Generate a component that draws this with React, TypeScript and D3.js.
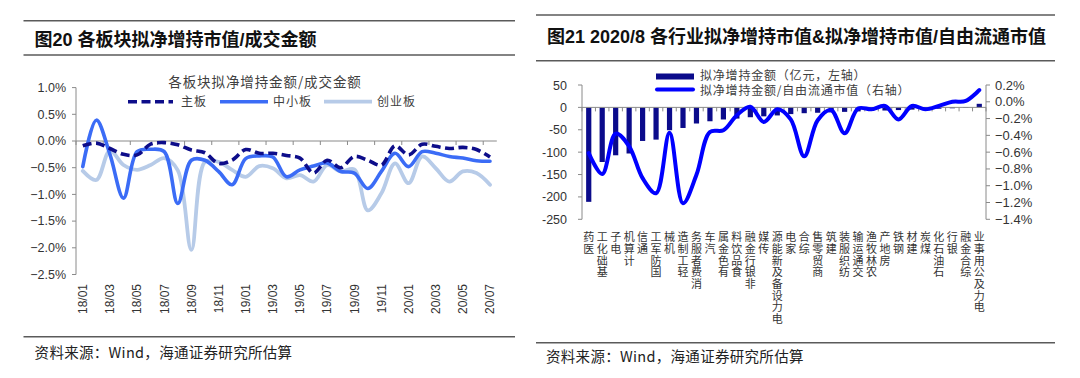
import React from "react";
import * as d3 from "d3";

// ---------- Left chart data (图20) ----------
const months = [
  "18/01","18/02","18/03","18/04","18/05","18/06","18/07","18/08","18/09","18/10","18/11","18/12",
  "19/01","19/02","19/03","19/04","19/05","19/06","19/07","19/08","19/09","19/10","19/11","19/12",
  "20/01","20/02","20/03","20/04","20/05","20/06","20/07",
];
const mainBoard = [
  -0.09,-0.04,-0.14,-0.25,-0.26,-0.06,-0.03,-0.07,-0.17,-0.22,-0.42,-0.36,
  -0.16,-0.23,-0.23,-0.27,-0.32,-0.6,-0.36,-0.5,-0.29,-0.36,-0.45,-0.09,
  -0.26,-0.06,-0.1,-0.14,-0.12,-0.16,-0.3,
];
const smeBoard = [
  -0.48,0.39,-0.25,-1.07,-0.2,-0.155,-0.2,-1.17,-0.36,-0.36,-0.57,-0.82,
  -0.33,-0.28,-0.3,-0.67,-0.54,-0.47,-0.41,-0.57,-0.6,-0.89,-0.57,-0.23,
  -0.48,-0.2,-0.23,-0.29,-0.32,-0.37,-0.38,
];
const gemBoard = [
  -0.56,-0.73,-0.18,-0.45,-0.54,-0.45,-0.32,-0.55,-2.04,-0.39,-0.39,-0.54,
  -0.67,-0.47,-0.51,-0.7,-0.64,-0.76,-0.45,-0.57,-0.53,-1.3,-0.98,-0.42,
  -0.79,-0.29,-0.51,-0.76,-0.57,-0.6,-0.82,
];
const leftPctTicks = [1.0, 0.5, 0, -0.5, -1.0, -1.5, -2.0, -2.5];
const seriesNames = ["主板", "中小板", "创业板"];

// ---------- Right chart data (图21) ----------
const industries = [
  "医药","基础化工","电子","计算机","通信","国防军工","机械","轻工制造","消费者服务","汽车",
  "有色金属","食品饮料","非银行金融","传媒","电力设备及新能源","家电","综合","商贸零售","建筑","纺织服装",
  "交通运输","农林牧渔","房地产","钢铁","建材","煤炭","石油石化","银行","综合金融","电力及公用事业",
];
const netAmount = [
  -211,-122,-107,-103,-75,-72,-51,-46,-36,-31,
  -27,-25,-22,-20,-18,-15,-13,-12,-11,-10,
  -9,-8,-7,-6,-5,-4,-3,-2,-1,8,
];
const netRatio = [
  -0.61,-0.86,-0.38,-0.53,-0.91,-1.09,-0.37,-1.21,-0.87,-0.36,
  -0.34,-0.16,-0.06,-0.24,-0.09,-0.21,-0.65,-0.22,-0.1,-0.375,
  -0.08,-0.09,-0.05,-0.21,-0.05,-0.09,-0.05,0.0,0.01,0.14,
];
const amountTicks = [50, 0, -50, -100, -150, -200, -250];
const ratioTicks = [0.2, 0, -0.2, -0.4, -0.6, -0.8, -1.0, -1.2, -1.4];
const rightLegend = ["拟净增持金额（亿元，左轴）", "拟净增持金额/自由流通市值（右轴）"];

const SANS = "'Liberation Sans', Arial, 'Noto Sans CJK SC', sans-serif";
const CJK = "'Noto Sans CJK SC', 'Liberation Sans', sans-serif";
const AXIS = "#8a8a8a";
const RULE = "#5a5a5a";

export default function App() {
  // ---------- left scales ----------
  const xL = d3.scaleBand<string>().domain(months).range([76, 496.8]).padding(0);
  const yL = d3.scaleLinear().domain([-2.5, 1.0]).range([274.5, 87.6]);
  const cx = (i: number) => (xL(months[i]) as number) + xL.bandwidth() / 2;
  const lineL = d3
    .line<number>()
    .x((_, i) => cx(i))
    .y((d) => yL(d))
    .curve(d3.curveCatmullRom.alpha(0.5));
  const leftSeries = [
    { name: seriesNames[0], data: mainBoard, color: "#0d0d8a", dash: "9,4.5", w: 3.6 },
    { name: seriesNames[1], data: smeBoard, color: "#3b6cf6", dash: undefined, w: 3.6 },
    { name: seriesNames[2], data: gemBoard, color: "#b7cbe8", dash: undefined, w: 3.8 },
  ];
  const legendPos = [
    { x0: 128, x1: 173, tx: 181 },
    { x0: 220, x1: 268, tx: 273 },
    { x0: 324, x1: 372, tx: 377 },
  ];

  // ---------- right scales ----------
  const xR = d3.scaleBand<string>().domain(industries).range([582, 986]).padding(0);
  const yRL = d3.scaleLinear().domain([-250, 50]).range([219.3, 85]);
  const yRR = d3.scaleLinear().domain([-1.4, 0.2]).range([219.3, 85]);
  const rcx = (i: number) => (xR(industries[i]) as number) + xR.bandwidth() / 2;
  const barW = 5.2;
  const lineR = d3
    .line<number>()
    .x((_, i) => rcx(i))
    .y((d) => yRR(d))
    .curve(d3.curveCatmullRom.alpha(0.5));

  const fmtPct = (v: number) => d3.format(".1f")(v) + "%";
  const catFont = 11;

  return (
    <svg
      width={1080}
      height={378}
      style={{ position: "absolute", left: 0, top: 0, background: "#fff" }}
    >
      <rect x={0} y={0} width={1080} height={378} fill="#fff" />

      {/* ================= LEFT PANEL ================= */}
      <line x1={23.5} x2={515} y1={20.7} y2={20.7} stroke={RULE} strokeWidth={1.6} />
      <text x={34.6} y={45.6} fontFamily={SANS} fontWeight="bold" fontSize={18} fill="#111">
        图20 各板块拟净增持市值/成交金额
      </text>
      <line x1={23.5} x2={515} y1={55} y2={55} stroke={RULE} strokeWidth={1.6} />

      <text
        x={265}
        y={86.8}
        textAnchor="middle"
        fontFamily={CJK}
        fontSize={13.5}
        letterSpacing={0.9}
        fill="#404040"
      >
        各板块拟净增持金额/成交金额
      </text>

      {leftSeries.map((s, k) => (
        <g key={s.name}>
          <line
            x1={legendPos[k].x0}
            x2={legendPos[k].x1}
            y1={101.7}
            y2={101.7}
            stroke={s.color}
            strokeWidth={s.w}
            strokeDasharray={s.dash}
          />
          <text x={legendPos[k].tx} y={106} fontFamily={CJK} fontSize={12} letterSpacing={1} fill="#404040">
            {s.name}
          </text>
        </g>
      ))}

      {/* y axis */}
      <line x1={76} x2={76} y1={yL(1.0)} y2={yL(-2.5)} stroke={AXIS} strokeWidth={1} />
      {leftPctTicks.map((t) => (
        <g key={t}>
          <line x1={72} x2={76} y1={yL(t)} y2={yL(t)} stroke={AXIS} />
          <text
            x={66}
            y={yL(t) + 4.3}
            textAnchor="end"
            fontFamily={SANS}
            fontSize={12.5}
            fill="#333"
          >
            {fmtPct(t)}
          </text>
        </g>
      ))}
      {/* zero line + x ticks */}
      <line x1={76} x2={496.8} y1={yL(0)} y2={yL(0)} stroke={AXIS} strokeWidth={1} />
      {months.map((m, i) =>
        i % 2 === 0 ? (
          <line key={m} x1={xL(m)} x2={xL(m)} y1={yL(0)} y2={yL(0) + 4} stroke={AXIS} />
        ) : null
      )}
      {/* x labels */}
      {months.map((m, i) =>
        i % 2 === 0 ? (
          <text
            key={m}
            transform={`translate(${cx(i) + 4.3},284) rotate(-90)`}
            textAnchor="end"
            fontFamily={SANS}
            fontSize={12}
            fill="#333"
          >
            {m}
          </text>
        ) : null
      )}

      {/* series (draw light first, dashed on top) */}
      {[2, 1, 0].map((k) => {
        const s = leftSeries[k];
        return (
          <path
            key={s.name}
            d={lineL(s.data) as string}
            fill="none"
            stroke={s.color}
            strokeWidth={s.w}
            strokeDasharray={s.dash}
            strokeLinejoin="round"
            strokeLinecap={s.dash ? "butt" : "round"}
          />
        );
      })}

      <line x1={23.5} x2={515} y1={336.7} y2={336.7} stroke={RULE} strokeWidth={1.6} />
      <text x={34.6} y={358.3} fontFamily={CJK} fontSize={14.5} letterSpacing={0.3} fill="#222">
        资料来源：Wind，海通证券研究所估算
      </text>

      {/* ================= RIGHT PANEL ================= */}
      <line x1={536} x2={1055} y1={15} y2={15} stroke={RULE} strokeWidth={1.6} />
      <text x={547} y={42.8} fontFamily={SANS} fontWeight="bold" fontSize={18} fill="#111">
        图21 2020/8 各行业拟净增持市值&amp;拟净增持市值/自由流通市值
      </text>
      <line x1={536} x2={1055} y1={60.7} y2={60.7} stroke={RULE} strokeWidth={1.6} />

      {/* legend */}
      <rect x={656} y={73.5} width={38} height={6} fill="#0b0b8b" />
      <line x1={657} x2={693} y1={89.5} y2={89.5} stroke="#0000ff" strokeWidth={4} strokeLinecap="round" />
      <text x={700} y={80} fontFamily={CJK} fontSize={12} letterSpacing={0.8} fill="#404040">
        {rightLegend[0]}
      </text>
      <text x={700} y={95} fontFamily={CJK} fontSize={12} letterSpacing={0.8} fill="#404040">
        {rightLegend[1]}
      </text>

      {/* left axis */}
      <line x1={582} x2={582} y1={yRL(50)} y2={yRL(-250)} stroke={AXIS} />
      {amountTicks.map((t) => (
        <g key={t}>
          <line x1={578} x2={582} y1={yRL(t)} y2={yRL(t)} stroke={AXIS} />
          <text x={567} y={yRL(t) + 4.5} textAnchor="end" fontFamily={SANS} fontSize={12.5} fill="#333">
            {t}
          </text>
        </g>
      ))}
      {/* right axis */}
      <line x1={986} x2={986} y1={yRR(0.2)} y2={yRR(-1.4)} stroke={AXIS} />
      {ratioTicks.map((t) => (
        <g key={t}>
          <line x1={986} x2={990} y1={yRR(t)} y2={yRR(t)} stroke={AXIS} />
          <text x={995} y={yRR(t) + 4.5} textAnchor="start" fontFamily={SANS} fontSize={13} fill="#333">
            {fmtPct(t)}
          </text>
        </g>
      ))}

      {/* bars */}
      {industries.map((c, i) => {
        const v = netAmount[i];
        const y0 = yRL(0);
        const y1 = yRL(v);
        return (
          <rect
            key={c}
            x={rcx(i) - barW / 2}
            y={Math.min(y0, y1)}
            width={barW}
            height={Math.abs(y1 - y0)}
            fill="#0b0b8b"
          />
        );
      })}
      {/* zero axis + ticks */}
      <line x1={582} x2={986} y1={yRL(0)} y2={yRL(0)} stroke={AXIS} />
      {industries.map((c) => (
        <line key={c} x1={xR(c)} x2={xR(c)} y1={yRL(0)} y2={yRL(0) + 4} stroke={AXIS} />
      ))}
      <line x1={986} x2={986} y1={yRL(0)} y2={yRL(0) + 4} stroke={AXIS} />

      {/* ratio line */}
      <path
        d={lineR(netRatio) as string}
        fill="none"
        stroke="#0000ff"
        strokeWidth={4}
        strokeLinejoin="round"
        strokeLinecap="round"
      />

      {/* vertical category labels: text runs upward, each glyph kept upright */}
      {industries.map((c, i) => {
        const n = Array.from(c).length;
        return (
          <text
            key={c}
            transform={`translate(${rcx(i) - catFont / 2},${229.5}) rotate(-90)`}
            textAnchor="end"
            rotate={Array(n).fill(90).join(" ")}
            fontFamily={CJK}
            fontSize={catFont}
            letterSpacing={0.7}
            fill="#333"
          >
            {c}
          </text>
        );
      })}

      <line x1={536} x2={1055} y1={342.7} y2={342.7} stroke={RULE} strokeWidth={1.6} />
      <text x={546} y={361.7} fontFamily={CJK} fontSize={14.5} letterSpacing={0.3} fill="#222">
        资料来源：Wind，海通证券研究所估算
      </text>
    </svg>
  );
}
